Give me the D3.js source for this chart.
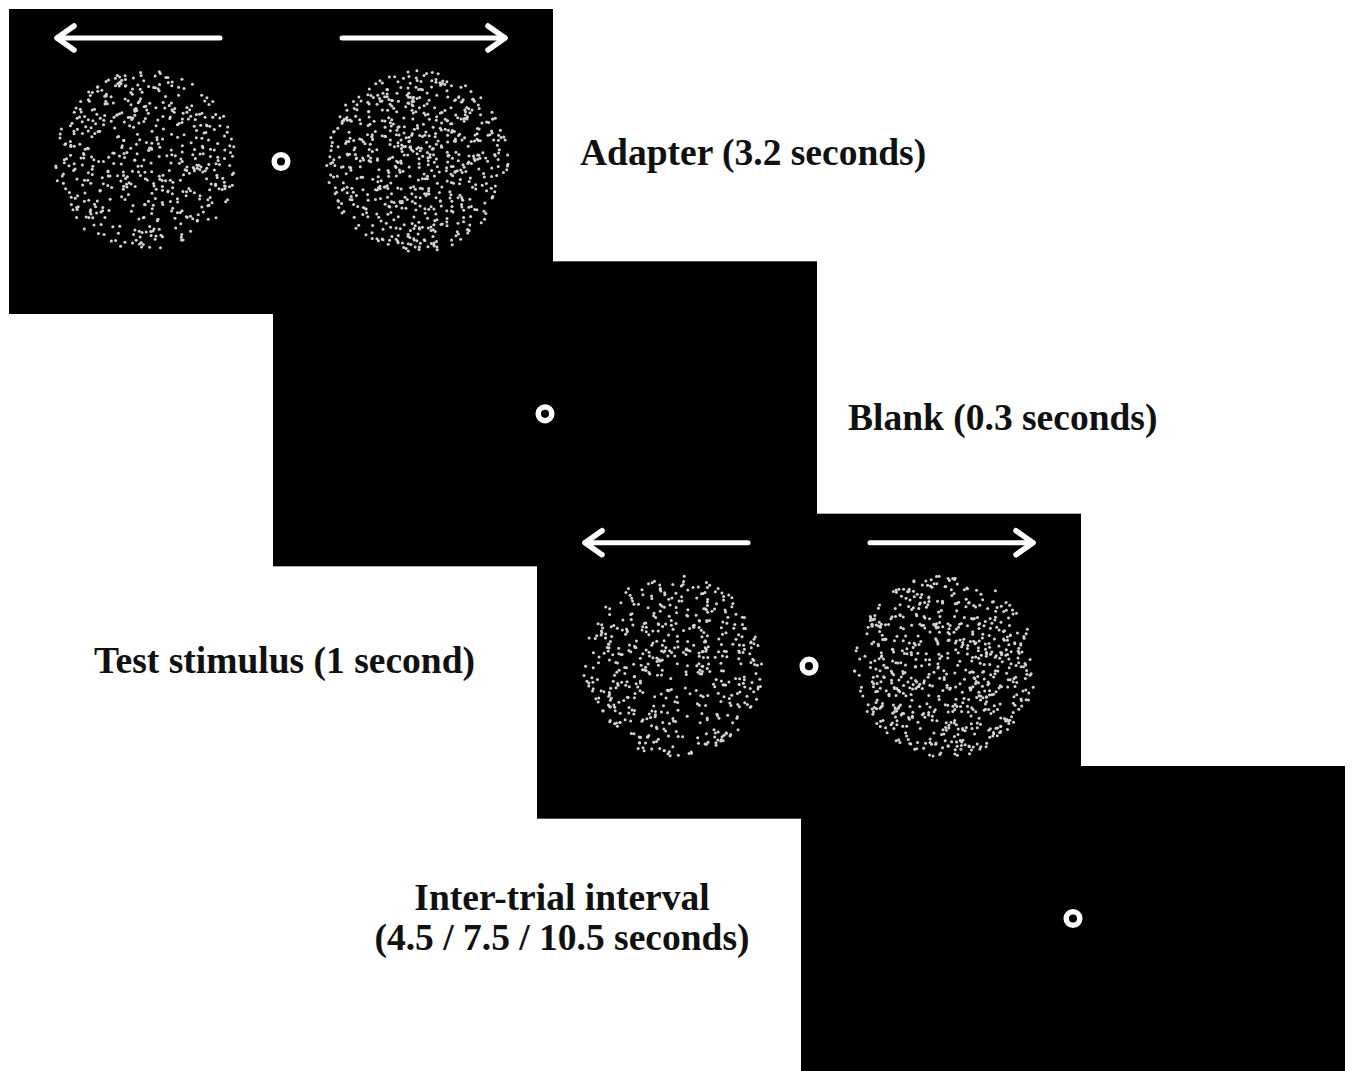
<!DOCTYPE html>
<html>
<head>
<meta charset="utf-8">
<script src="https://cdn.jsdelivr.net/npm/d3@7"></script>
<style>
  html, body { margin: 0; padding: 0; background: #fff; }
  svg { display: block; }
  .label { font-family: "Liberation Serif", "Times New Roman", serif; font-weight: bold; fill: #111; }
</style>
</head>
<body>
<div id="chart"></div>
<script>
const W = 1352, H = 1071;

// trial sequence
const stageNames = ['Adapter', 'Blank', 'Test stimulus', 'Inter-trial interval'];
const stageDurations = ['(3.2 seconds)', '(0.3 seconds)', '(1 second)', '(4.5 / 7.5 / 10.5 seconds)'];
const stageHasDots = [true, false, true, false];
const motionDirections = ['left', 'right'];
const dotsPerPatch = [520, 680];

// layout
const panelW = 544, panelH = 305;
const x = d3.scaleLinear().domain([0, stageNames.length - 1]).range([9, 801]);
const y = d3.scaleLinear().domain([0, stageNames.length - 1]).range([9, 766]);
const labelLayout = [
  { anchor: 'start',  dx: panelW + 27, dy: [156] },
  { anchor: 'start',  dx: panelW + 31, dy: [169] },
  { anchor: 'end',    dx: -62,         dy: [159] },
  { anchor: 'middle', dx: -239,        dy: [144, 184] },
];
const patchOffset = 136, patchR = 91;

const svg = d3.select('#chart').append('svg')
  .attr('width', W).attr('height', H);

svg.append('rect').attr('width', W).attr('height', H).attr('fill', '#fff');

const defs = svg.append('defs');
defs.append('filter').attr('id', 'soft')
  .attr('x', '-20%').attr('y', '-20%').attr('width', '140%').attr('height', '140%')
  .append('feGaussianBlur').attr('stdDeviation', 0.55);

const stages = stageNames.map((name, i) => ({
  i, name, duration: stageDurations[i], dots: stageHasDots[i],
  lines: i === 3 ? [name, stageDurations[i]] : [name + ' ' + stageDurations[i]],
}));

// fixed texture seed so every render draws the same dot field
const rand = d3.randomLcg(0.4217);

const panel = svg.selectAll('g.panel')
  .data(stages)
  .join('g')
  .attr('class', 'panel')
  .attr('transform', d => `translate(${x(d.i)},${y(d.i)})`);

panel.append('rect')
  .attr('width', panelW)
  .attr('height', d => d.i === stages.length - 1 ? H - y(d.i) : panelH)
  .attr('fill', '#000');

const cx = panelW / 2, cy = panelH / 2;

// motion patches + arrows
const moving = panel.filter(d => d.dots);
motionDirections.forEach((dir, k) => {
  const sign = dir === 'left' ? -1 : 1;
  const px = cx + sign * patchOffset;

  moving.each(function () {
    const g = d3.select(this).append('g').attr('filter', 'url(#soft)');
    const pts = d3.range(dotsPerPatch[k]).map(() => {
      const a = rand() * 2 * Math.PI, r = Math.sqrt(rand()) * patchR;
      return [px + r * Math.cos(a), cy + r * Math.sin(a)];
    });
    g.selectAll('circle').data(pts).join('circle')
      .attr('cx', p => p[0]).attr('cy', p => p[1])
      .attr('r', 1.5)
      .attr('fill', '#d4d4d4');
  });

  const ay = 29;
  const inner = cx + sign * 61, outer = cx + sign * 224;
  const ag = moving.append('g')
    .attr('fill', 'none')
    .attr('stroke', '#fff')
    .attr('stroke-width', 5)
    .attr('stroke-linecap', 'round')
    .attr('stroke-linejoin', 'round');
  ag.append('line')
    .attr('x1', inner).attr('y1', ay)
    .attr('x2', outer).attr('y2', ay);
  ag.append('path')
    .attr('stroke-width', 5.5)
    .attr('d', `M${outer - sign * 17},${ay - 12} L${outer},${ay} L${outer - sign * 17},${ay + 12}`);
});

// fixation ring
panel.append('circle')
  .attr('cx', cx).attr('cy', cy)
  .attr('r', 6.8)
  .attr('fill', 'none')
  .attr('stroke', '#fff')
  .attr('stroke-width', 5.5);

// stage labels
const labels = svg.selectAll('text.label')
  .data(stages)
  .join('text')
  .attr('class', 'label')
  .attr('font-size', 37.5)
  .attr('text-anchor', d => labelLayout[d.i].anchor);

labels.selectAll('tspan')
  .data(d => d.lines.map((t, j) => ({ t, d, j })))
  .join('tspan')
  .attr('x', o => x(o.d.i) + labelLayout[o.d.i].dx)
  .attr('y', o => y(o.d.i) + labelLayout[o.d.i].dy[o.j])
  .text(o => o.t);
</script>
</body>
</html>
